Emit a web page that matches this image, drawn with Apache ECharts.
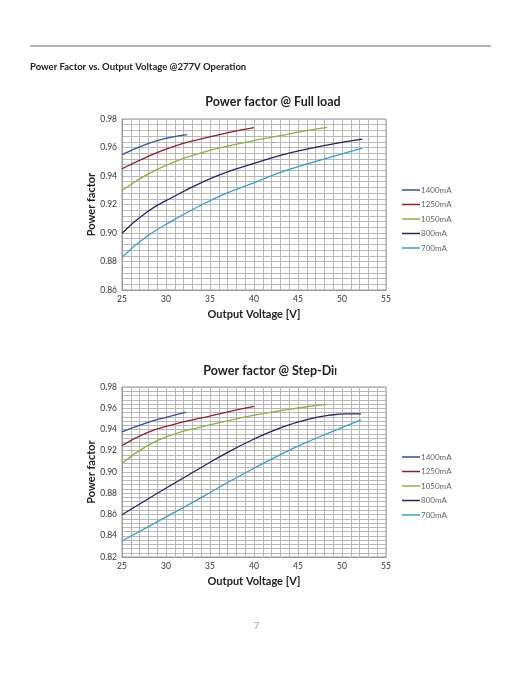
<!DOCTYPE html>
<html>
<head>
<meta charset="utf-8">
<script src="https://cdn.jsdelivr.net/npm/echarts@6/dist/echarts.min.js"></script>
<style>
html, body { margin: 0; padding: 0; background: #fff; }
#main { width: 522px; height: 676px; }
</style>
</head>
<body>
<div id="main"></div>
<script>
// series names / colours
var names = ["1400mA", "1250mA", "1050mA", "800mA", "700mA"];
var colors = ["#2d5394", "#8e1f2e", "#8cb043", "#2c2160", "#3c9ccb"];

// Full load  [V, PF]
var full1400 = [[25, 0.955], [27.8, 0.9624], [30.1, 0.9666], [32.4, 0.969]];
var full1250 = [[25, 0.9451], [27.8, 0.9533], [30.9, 0.9608], [33.9, 0.9659], [36.9, 0.9702], [40.0, 0.9739]];
var full1050 = [[25, 0.9298], [27.8, 0.9408], [30.9, 0.9498], [33.9, 0.9561], [36.9, 0.9608], [39.9, 0.9648], [43.0, 0.9683], [46.0, 0.9718], [48.3, 0.9741]];
var full800 = [[25, 0.8998], [27.8, 0.9146], [30.9, 0.9256], [33.9, 0.935], [36.9, 0.9427], [39.9, 0.9486], [43.0, 0.9545], [46.0, 0.9589], [49.0, 0.9626], [52.3, 0.9659]];
var full700 = [[25, 0.883], [27.8, 0.8975], [30.9, 0.9092], [33.9, 0.9193], [36.9, 0.928], [39.9, 0.935], [43.0, 0.9425], [46.0, 0.9483], [49.0, 0.9537], [52.3, 0.9596]];

// Step-Dim  [V, PF]
var dim1400 = [[25, 0.9378], [27.8, 0.9463], [30.1, 0.9517], [32.3, 0.9564]];
var dim1250 = [[25, 0.9249], [27.8, 0.9369], [30.8, 0.9447], [33.9, 0.9506], [36.9, 0.9564], [40.0, 0.9617]];
var dim1050 = [[25, 0.9079], [27.8, 0.9243], [30.8, 0.9353], [33.9, 0.9422], [36.9, 0.9479], [39.9, 0.9532], [43.0, 0.9576], [46.0, 0.9614], [48.3, 0.9636]];
var dim800 = [[25, 0.8597], [27.8, 0.8739], [30.8, 0.8887], [33.9, 0.9038], [36.9, 0.918], [39.9, 0.9306], [43.0, 0.9416], [46.0, 0.9494], [49.0, 0.9539], [50.6, 0.9548], [52.15, 0.9548]];
var dim700 = [[25, 0.8351], [27.8, 0.8477], [30.8, 0.8613], [33.9, 0.8754], [36.9, 0.8896], [39.9, 0.9031], [43.0, 0.9164], [46.0, 0.928], [49.0, 0.9384], [52.15, 0.9491]];

var fullData = [full1400, full1250, full1050, full800, full700];
var dimData = [dim1400, dim1250, dim1050, dim800, dim700];

var font = "Lato, 'Noto Sans', sans-serif";
var gridColor = "#b8b8b8";

function xAxisOf(idx) {
  return {
    gridIndex: idx, type: "value", min: 25, max: 55, interval: 5,
    name: "Output Voltage [V]", nameLocation: "middle", nameGap: 19,
    nameTextStyle: { fontFamily: font, fontSize: 11, fontWeight: "bold", color: "#222" },
    axisLine: { show: true, lineStyle: { color: "#999", width: 1 } },
    axisTick: { show: false },
    axisLabel: { fontFamily: font, fontSize: 8.5, color: "#333", margin: 5 },
    splitLine: { show: true, lineStyle: { color: gridColor, width: 1 } },
    minorTick: { show: false, splitNumber: 5 },
    minorSplitLine: { show: true, lineStyle: { color: gridColor, width: 1 } }
  };
}

function yAxisOf(idx, min) {
  return {
    gridIndex: idx, type: "value", min: min, max: 0.98, interval: 0.02,
    name: "Power factor", nameLocation: "middle", nameGap: 25, nameMoveOverlap: false,
    nameTextStyle: { fontFamily: font, fontSize: 11, fontWeight: "bold", color: "#222" },
    axisLine: { show: true, lineStyle: { color: "#999", width: 1 } },
    axisTick: { show: false },
    axisLabel: { fontFamily: font, fontSize: 8.5, color: "#333", margin: 5,
      formatter: function (v) { return v.toFixed(2); } },
    splitLine: { show: true, lineStyle: { color: gridColor, width: 1 } },
    minorTick: { show: false, splitNumber: 5 },
    minorSplitLine: { show: true, lineStyle: { color: gridColor, width: 1 } }
  };
}

var series = [];
names.forEach(function (n, i) {
  series.push({ name: n, type: "line", xAxisIndex: 0, yAxisIndex: 0, data: fullData[i],
    smooth: 0.5, symbol: "none",
    lineStyle: { color: colors[i], width: 1.3 }, itemStyle: { color: colors[i] } });
});
names.forEach(function (n, i) {
  series.push({ name: n, type: "line", xAxisIndex: 1, yAxisIndex: 1, data: dimData[i],
    smooth: 0.5, symbol: "none",
    lineStyle: { color: colors[i], width: 1.3 }, itemStyle: { color: colors[i] } });
});

function legendOf(top) {
  return {
    orient: "vertical", left: 397, top: top, data: names,
    icon: "rect", itemWidth: 18, itemHeight: 1.5, itemGap: 6.5,
    textStyle: { fontFamily: font, fontSize: 8, color: "#666", padding: [0, 0, 0, -4] },
    selectedMode: false
  };
}

var option = {
  backgroundColor: "#fff",
  animation: false,
  title: [
    { text: "Power Factor vs. Output Voltage @277V Operation", left: 30, top: 62, padding: 0,
      textStyle: { fontFamily: font, fontSize: 9.5, fontWeight: "bold", color: "#222" } },
    { text: "Power factor @ Full load", left: 273, top: 95, padding: 0, textAlign: "center",
      textStyle: { fontFamily: font, fontSize: 12.5, fontWeight: "bold", color: "#222" } },
    { text: "Power factor @ Step-Dim", left: 274, top: 364, padding: 0, textAlign: "center",
      textStyle: { fontFamily: font, fontSize: 12.5, fontWeight: "bold", color: "#222" } },
    { text: "7", left: 254, top: 622, padding: 0,
      textStyle: { fontFamily: font, fontSize: 9, fontWeight: "normal", color: "#999" } }
  ],
  grid: [
    { left: 122, top: 119, width: 264, height: 171, show: true, borderColor: "#999", borderWidth: 1 },
    { left: 122, top: 387, width: 264, height: 170, show: true, borderColor: "#999", borderWidth: 1 }
  ],
  xAxis: [xAxisOf(0), xAxisOf(1)],
  yAxis: [yAxisOf(0, 0.86), yAxisOf(1, 0.82)],
  legend: [legendOf(181), legendOf(448)],
  graphic: [
    { type: "line", shape: { x1: 30, y1: 46, x2: 491, y2: 46 }, style: { stroke: "#666", lineWidth: 1 } },
    { type: "rect", z: 100, shape: { x: 336.5, y: 362, width: 30, height: 20 }, style: { fill: "#fff" } }
  ],
  series: series
};

var chart = echarts.init(document.getElementById("main"));
chart.setOption(option);
</script>
</body>
</html>
